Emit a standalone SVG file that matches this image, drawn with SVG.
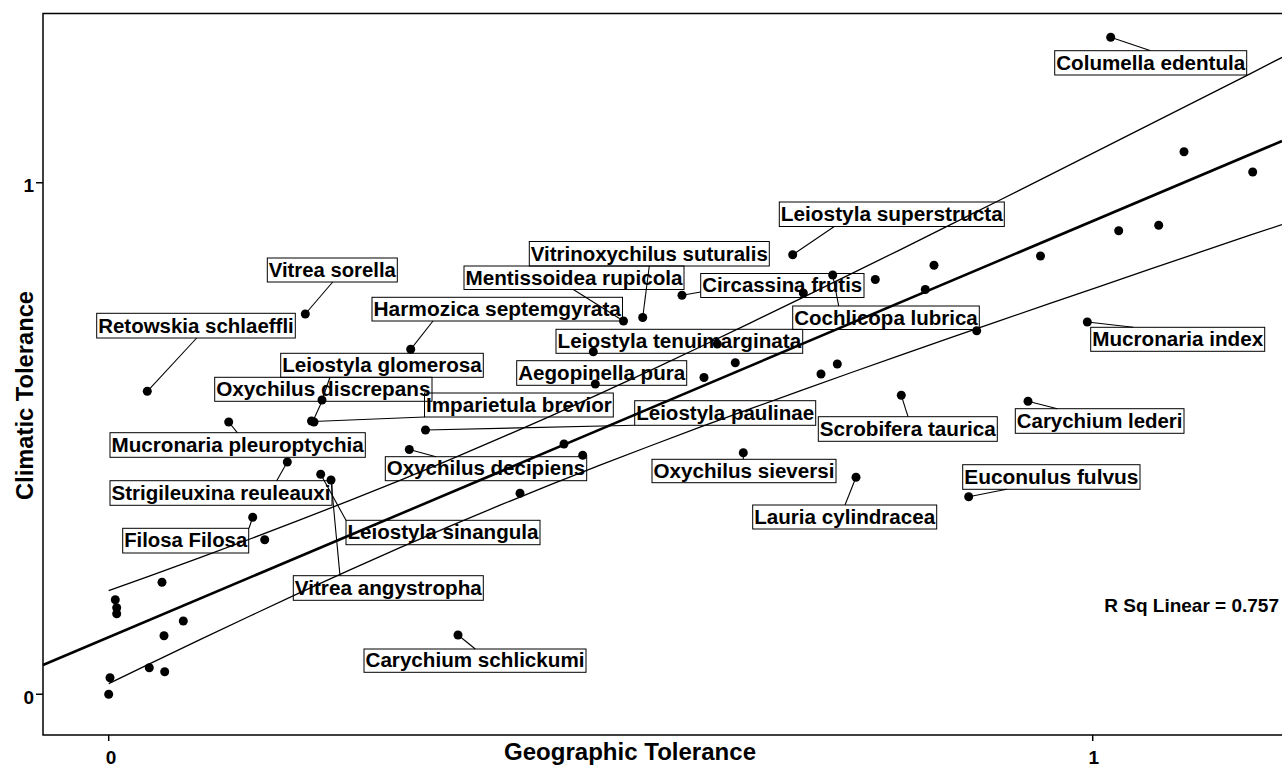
<svg xmlns="http://www.w3.org/2000/svg" width="1282" height="765" viewBox="0 0 1282 765">
<style>
text{font-family:"Liberation Sans",Arial,sans-serif;font-weight:bold;fill:#000}
.lbl{font-size:20px}
.tk{font-size:19px}
.box{fill:none;stroke:#000;stroke-width:1}
.ax{fill:none;stroke:#000;stroke-width:1.5}
.ci{fill:none;stroke:#000;stroke-width:1.3}
.fit{fill:none;stroke:#000;stroke-width:2.6}
.ld{fill:none;stroke:#000;stroke-width:1.1}
.pt circle{fill:#000}
</style>
<rect width="1282" height="765" fill="#fff"/>
<g id="axes">
<path class="ax" d="M1282,13.5 H43 V735 H1282"/>
<path class="ax" d="M36,182.7 H43 M36,694.3 H43 M108.7,735 V741 M1092.7,735 V741"/>
<text class="tk" x="34" y="192" text-anchor="end">1</text>
<text class="tk" x="34" y="704" text-anchor="end">0</text>
<text class="tk" x="111" y="763.5" text-anchor="middle">0</text>
<text class="tk" x="1093.7" y="763.5" text-anchor="middle">1</text>
<text x="630" y="760" font-size="23" text-anchor="middle" textLength="252" lengthAdjust="spacingAndGlyphs">Geographic Tolerance</text>
<text transform="translate(33,395.5) rotate(-90)" font-size="23" text-anchor="middle" textLength="209" lengthAdjust="spacingAndGlyphs">Climatic Tolerance</text>
<text x="1279" y="612.3" font-size="19" text-anchor="end">R Sq Linear = 0.757</text>
</g>
<g id="fit">
<path class="fit" d="M43,665 L1282,141"/>
<path class="ci" d="M108.7,590.7 L150,575.8 L200,557.6 L250,539.0 L300,519.9 L350,500.4 L400,480.3 L450,459.6 L500,438.2 L550,416.3 L600,393.6 L650,370.6 L700,347.0 L750,323.1 L800,298.9 L850,274.4 L900,249.8 L950,224.9 L1000,200.0 L1050,174.8 L1100,149.7 L1150,124.4 L1200,99.2 L1250,73.8 L1282,57.4"/>
<path class="ci" d="M108.7,683.7 L150,663.6 L200,639.6 L250,616.0 L300,592.7 L350,569.9 L400,547.7 L450,526.2 L500,505.2 L550,484.9 L600,465.2 L650,446.0 L700,427.2 L750,408.9 L800,390.9 L850,373.0 L900,355.4 L950,337.9 L1000,320.6 L1050,303.4 L1100,286.3 L1150,269.2 L1200,252.2 L1250,235.2 L1282,224.6"/>
</g>
<g id="points" class="pt">
<circle cx="1110.7" cy="37.3" r="4.5"/><circle cx="792.7" cy="254.7" r="4.5"/><circle cx="642.7" cy="317.5" r="4.5"/><circle cx="305.3" cy="314" r="4.5"/><circle cx="623.5" cy="321" r="4.5"/><circle cx="682" cy="295.3" r="4.5"/><circle cx="410.7" cy="349.3" r="4.5"/><circle cx="832.7" cy="275" r="4.5"/><circle cx="147.3" cy="391.3" r="4.5"/><circle cx="593.3" cy="351.7" r="4.5"/><circle cx="1087.3" cy="322" r="4.5"/><circle cx="322" cy="400" r="4.5"/><circle cx="595.3" cy="384" r="4.5"/><circle cx="311.5" cy="421" r="4.5"/><circle cx="314" cy="422" r="4.5"/><circle cx="425.5" cy="430" r="4.5"/><circle cx="901.3" cy="395.3" r="4.5"/><circle cx="1028" cy="401.3" r="4.5"/><circle cx="228.7" cy="422" r="4.5"/><circle cx="409.3" cy="449.5" r="4.5"/><circle cx="743.3" cy="452.7" r="4.5"/><circle cx="968.7" cy="496.7" r="4.5"/><circle cx="287.3" cy="462" r="4.5"/><circle cx="856" cy="477.3" r="4.5"/><circle cx="320.7" cy="474.3" r="4.5"/><circle cx="252.7" cy="517.3" r="4.5"/><circle cx="331" cy="480" r="4.5"/><circle cx="458" cy="635" r="4.5"/>
<circle cx="1184" cy="151.7" r="4.5"/><circle cx="1252.7" cy="172" r="4.5"/><circle cx="1118.7" cy="230.7" r="4.5"/><circle cx="1158.7" cy="225.3" r="4.5"/><circle cx="1040.5" cy="256" r="4.5"/><circle cx="934" cy="265.3" r="4.5"/><circle cx="875.3" cy="279.5" r="4.5"/><circle cx="925.3" cy="289.5" r="4.5"/><circle cx="976.7" cy="330.7" r="4.5"/><circle cx="803.3" cy="293" r="4.5"/><circle cx="717.3" cy="344" r="4.5"/><circle cx="735.3" cy="362.7" r="4.5"/><circle cx="704" cy="377.5" r="4.5"/><circle cx="821" cy="374" r="4.5"/><circle cx="837.3" cy="364" r="4.5"/><circle cx="564" cy="444" r="4.5"/><circle cx="582.7" cy="455.3" r="4.5"/><circle cx="520" cy="493.3" r="4.5"/><circle cx="264.7" cy="539.7" r="4.5"/><circle cx="162" cy="582.3" r="4.5"/><circle cx="115.3" cy="599.7" r="4.5"/><circle cx="116.7" cy="607.7" r="4.5"/><circle cx="116.7" cy="613.7" r="4.5"/><circle cx="183.3" cy="621" r="4.5"/><circle cx="164" cy="635.7" r="4.5"/><circle cx="149.3" cy="667.7" r="4.5"/><circle cx="164.7" cy="671.7" r="4.5"/><circle cx="110" cy="677.7" r="4.5"/><circle cx="108.7" cy="694.3" r="4.5"/>
</g>
<g id="connectors" class="ld">
<path d="M1110.7,37.3 L1150,50.5"/>
<path d="M834.3,226.5 L792.7,254.7"/>
<path d="M649.3,266 L642.7,317.5"/>
<path d="M332.7,282 L305.3,314"/>
<path d="M573.3,289.5 L623.5,321"/>
<path d="M700.7,292 L682,295.3"/>
<path d="M433,321 L410.7,349.3"/>
<path d="M838.7,306 L832.7,275"/>
<path d="M196.7,338 L147.3,391.3"/>
<path d="M1087.3,322 L1133.3,327.3"/>
<path d="M330,377.3 L322,400"/>
<path d="M322,401.3 L313,421"/>
<path d="M313,421.5 L424.5,417"/>
<path d="M425.5,430 L634.7,425.3"/>
<path d="M901.3,395.3 L908,416.7"/>
<path d="M1028,401.3 L1057.3,408.7"/>
<path d="M228.7,422 L237.3,432.7"/>
<path d="M409.3,449.5 L436,456.7"/>
<path d="M743.3,452.7 L743.3,459.3"/>
<path d="M968.7,496.7 L1006.7,489.3"/>
<path d="M287.3,462 L276.7,480.7"/>
<path d="M856,477.3 L845,505"/>
<path d="M320.7,474.3 L346,520.3"/>
<path d="M252.7,517.3 L249,528.3"/>
<path d="M331,480 L340,575.7"/>
<path d="M458,635 L475.3,649"/>
</g>
<g id="columella"><rect class="box" x="1054.7" y="50.7" width="192" height="24.3"/><text class="lbl" x="1056.2" y="69.5" textLength="189" lengthAdjust="spacingAndGlyphs">Columella edentula</text></g>
<g id="superstructa"><rect class="box" x="779.3" y="202" width="225" height="24.5"/><text class="lbl" x="780.8" y="221" textLength="222" lengthAdjust="spacingAndGlyphs">Leiostyla superstructa</text></g>
<g id="vitrinoxychilus"><rect class="box" x="529.3" y="241.5" width="240" height="24.5"/><text class="lbl" x="530.8" y="260.5" textLength="237" lengthAdjust="spacingAndGlyphs">Vitrinoxychilus suturalis</text></g>
<g id="vitrea-sorella"><rect class="box" x="267.3" y="258" width="130" height="24"/><text class="lbl" x="268.8" y="276.8" textLength="127" lengthAdjust="spacingAndGlyphs">Vitrea sorella</text></g>
<g id="mentissoidea"><rect class="box" x="464" y="266" width="220" height="23.5"/><text class="lbl" x="465.5" y="284.5" textLength="217" lengthAdjust="spacingAndGlyphs">Mentissoidea rupicola</text></g>
<g id="circassina"><rect class="box" x="700.7" y="273.5" width="163.3" height="24"/><text class="lbl" x="702.2" y="292.3" textLength="160" lengthAdjust="spacingAndGlyphs">Circassina frutis</text></g>
<g id="harmozica"><rect class="box" x="372" y="297.3" width="250.5" height="23.7"/><text class="lbl" x="373.5" y="316" textLength="247.5" lengthAdjust="spacingAndGlyphs">Harmozica septemgyrata</text></g>
<g id="cochlicopa"><rect class="box" x="792.7" y="306" width="186.6" height="23.5"/><text class="lbl" x="794.2" y="324.5" textLength="183.6" lengthAdjust="spacingAndGlyphs">Cochlicopa lubrica</text></g>
<g id="retowskia"><rect class="box" x="96.7" y="313.3" width="198.6" height="24.7"/><text class="lbl" x="98.2" y="332.5" textLength="195.6" lengthAdjust="spacingAndGlyphs">Retowskia schlaeffli</text></g>
<g id="tenuimarginata"><rect class="box" x="556" y="329.3" width="246.7" height="24"/><text class="lbl" x="557.5" y="348" textLength="243.7" lengthAdjust="spacingAndGlyphs">Leiostyla tenuimarginata</text></g>
<g id="mucronaria-index"><rect class="box" x="1090.7" y="327.3" width="174" height="24"/><text class="lbl" x="1092.2" y="346" textLength="171" lengthAdjust="spacingAndGlyphs">Mucronaria index</text></g>
<g id="glomerosa"><rect class="box" x="280.7" y="353.3" width="202.6" height="24"/><text class="lbl" x="282.2" y="372" textLength="199.6" lengthAdjust="spacingAndGlyphs">Leiostyla glomerosa</text></g>
<g id="aegopinella"><rect class="box" x="516.7" y="360.7" width="170" height="24.6"/><text class="lbl" x="518.2" y="379.7" textLength="167" lengthAdjust="spacingAndGlyphs">Aegopinella pura</text></g>
<g id="discrepans"><rect class="box" x="214.7" y="377.3" width="217.3" height="24"/><text class="lbl" x="216.2" y="396" textLength="214.3" lengthAdjust="spacingAndGlyphs">Oxychilus discrepans</text></g>
<g id="imparietula"><rect class="box" x="424.5" y="393" width="188.8" height="24"/><text class="lbl" x="426" y="411.7" textLength="185.8" lengthAdjust="spacingAndGlyphs">Imparietula brevior</text></g>
<g id="paulinae"><rect class="box" x="634.7" y="400.7" width="181" height="24.6"/><text class="lbl" x="636.2" y="419.7" textLength="178" lengthAdjust="spacingAndGlyphs">Leiostyla paulinae</text></g>
<g id="scrobifera"><rect class="box" x="818.3" y="416.7" width="179" height="24.6"/><text class="lbl" x="819.8" y="435.7" textLength="176" lengthAdjust="spacingAndGlyphs">Scrobifera taurica</text></g>
<g id="lederi"><rect class="box" x="1015.3" y="408.7" width="168.7" height="24.6"/><text class="lbl" x="1016.8" y="427.7" textLength="165.7" lengthAdjust="spacingAndGlyphs">Carychium lederi</text></g>
<g id="pleuroptychia"><rect class="box" x="110" y="432.7" width="255.3" height="24.6"/><text class="lbl" x="111.5" y="451.7" textLength="252.3" lengthAdjust="spacingAndGlyphs">Mucronaria pleuroptychia</text></g>
<g id="decipiens"><rect class="box" x="385.3" y="456.7" width="201.4" height="24"/><text class="lbl" x="386.8" y="475.4" textLength="198.4" lengthAdjust="spacingAndGlyphs">Oxychilus decipiens</text></g>
<g id="sieversi"><rect class="box" x="652" y="459.3" width="184" height="23.4"/><text class="lbl" x="653.5" y="477.8" textLength="181" lengthAdjust="spacingAndGlyphs">Oxychilus sieversi</text></g>
<g id="euconulus"><rect class="box" x="962.7" y="464.7" width="177.3" height="24.6"/><text class="lbl" x="964.2" y="483.7" textLength="174.3" lengthAdjust="spacingAndGlyphs">Euconulus fulvus</text></g>
<g id="strigileuxina"><rect class="box" x="110" y="480.7" width="222" height="24.6"/><text class="lbl" x="111.5" y="499.7" textLength="219" lengthAdjust="spacingAndGlyphs">Strigileuxina reuleauxi</text></g>
<g id="lauria"><rect class="box" x="752.7" y="505" width="184" height="24"/><text class="lbl" x="754.2" y="523.7" textLength="181" lengthAdjust="spacingAndGlyphs">Lauria cylindracea</text></g>
<g id="sinangula"><rect class="box" x="346" y="520.3" width="194" height="24.4"/><text class="lbl" x="347.5" y="539.2" textLength="191" lengthAdjust="spacingAndGlyphs">Leiostyla sinangula</text></g>
<g id="filosa"><rect class="box" x="122.7" y="528.3" width="126" height="24.7"/><text class="lbl" x="124.2" y="547.4" textLength="123" lengthAdjust="spacingAndGlyphs">Filosa Filosa</text></g>
<g id="angystropha"><rect class="box" x="293.3" y="575.7" width="190" height="24.6"/><text class="lbl" x="294.8" y="594.7" textLength="187" lengthAdjust="spacingAndGlyphs">Vitrea angystropha</text></g>
<g id="schlickumi"><rect class="box" x="364" y="649" width="222" height="23.3"/><text class="lbl" x="365.5" y="667.4" textLength="219" lengthAdjust="spacingAndGlyphs">Carychium schlickumi</text></g>
</svg>
